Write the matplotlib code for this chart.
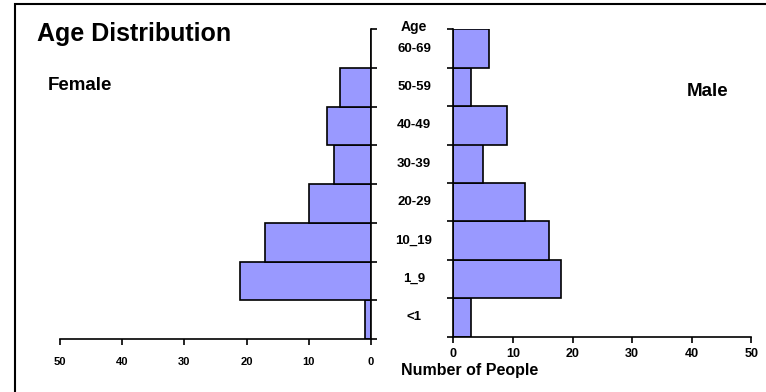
import matplotlib
matplotlib.use('Agg')
import matplotlib.pyplot as plt
from matplotlib.patches import Rectangle
from matplotlib.transforms import blended_transform_factory

plt.rcParams['font.family'] = ['Liberation Sans', 'DejaVu Sans']

# age groups from youngest (bottom) to oldest (top)
age_groups = ["<1", "1_9", "10_19", "20-29", "30-39", "40-49", "50-59", "60-69"]
female = [1, 21, 17, 10, 6, 7, 5, 0]
male = [3, 18, 16, 12, 5, 9, 3, 6]
x_ticks = [0, 10, 20, 30, 40, 50]

BAR_COLOR = '#9999ff'
W, H = 766, 392

fig = plt.figure(figsize=(W / 100, H / 100), dpi=100)


def fig_box(x0, y0, x1, y1):
    # pixel box (top-left origin) -> figure fraction rect
    return [x0 / W, 1 - y1 / H, (x1 - x0) / W, (y1 - y0) / H]


ax_f = fig.add_axes(fig_box(60, 29, 371, 339))
ax_m = fig.add_axes(fig_box(453.3, 29.3, 751.3, 336.5))

pos = range(len(age_groups))
bounds = [p - 0.5 for p in range(len(age_groups) + 1)]

ax_f.barh(pos, female, height=1.0, color=BAR_COLOR, edgecolor='black', linewidth=1.2)
ax_m.barh(pos, male, height=1.0, color=BAR_COLOR, edgecolor='black', linewidth=1.2)

for ax in (ax_f, ax_m):
    ax.set_xlim(0, 50)
    ax.set_ylim(-0.5, len(age_groups) - 0.5)
    ax.set_xticks(x_ticks)
    ax.set_yticks(bounds)
    ax.set_yticklabels([])
    ax.spines['top'].set_visible(False)
    for s in ax.spines.values():
        s.set_linewidth(1.2)
    ax.tick_params(axis='both', direction='out', length=4, width=1.2)
    ax.patch.set_visible(False)

# female side runs right-to-left
ax_f.invert_xaxis()
ax_f.spines['left'].set_visible(False)
ax_f.yaxis.tick_right()
ax_f.set_xticklabels([str(t) for t in x_ticks], fontsize=8, fontweight='bold')
ax_f.tick_params(axis='x', pad=9)

ax_m.spines['right'].set_visible(False)
ax_m.set_xticklabels([str(t) for t in x_ticks], fontsize=9, fontweight='bold')
ax_m.tick_params(axis='x', pad=4)

# age labels between the two halves
lab_tr = blended_transform_factory(fig.transFigure, ax_m.transData)
for p, lab in zip(pos, age_groups):
    ax_m.text(414 / W, p, lab, transform=lab_tr, ha='center', va='center',
              fontsize=9.5, fontweight='bold', clip_on=False)

fig.text(414 / W, 1 - 27 / H, "Age", ha='center', va='center', fontsize=10, fontweight='bold')
fig.text(37 / W, 1 - 34 / H, "Age Distribution", ha='left', va='center', fontsize=18, fontweight='bold')
fig.text(80 / W, 1 - 86 / H, "Female", ha='center', va='center', fontsize=13.5, fontweight='bold')
fig.text(708 / W, 1 - 91 / H, "Male", ha='center', va='center', fontsize=13.5, fontweight='bold')
fig.text(470 / W, 1 - 371 / H, "Number of People", ha='center', va='center', fontsize=11.5, fontweight='bold')

# outer frame (only top and left edges fall inside the image)
fig.add_artist(Rectangle((15 / W, -0.2), 1.0, 1.2 - 4 / H, transform=fig.transFigure,
                         fill=False, edgecolor='black', linewidth=1.5))

fig.savefig('out.png', dpi=100)
